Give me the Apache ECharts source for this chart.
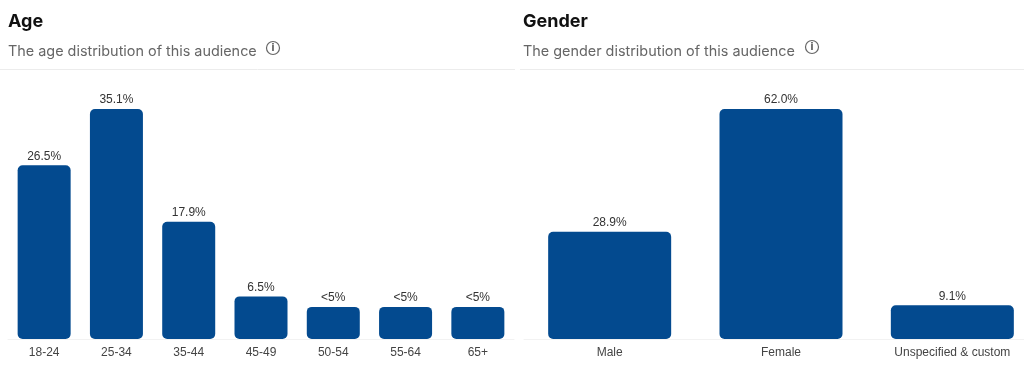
<!DOCTYPE html>
<html><head><meta charset="utf-8">
<script src="https://cdn.jsdelivr.net/npm/echarts@6/dist/echarts.min.js"></script>
<style>html,body{margin:0;padding:0;background:#fff}#c{width:1024px;height:366px}</style>
</head><body><div id="c"></div>
<script>
const ageCategories = ['18-24','25-34','35-44','45-49','50-54','55-64','65+'];
const ageValues = [26.5, 35.1, 17.9, 6.5, 4.9, 4.9, 4.9];
const ageLabels = ['26.5%','35.1%','17.9%','6.5%','<5%','<5%','<5%'];
const genderCategories = ['Male','Female','Unspecified & custom'];
const genderValues = [28.9, 62.0, 9.1];
const genderLabels = ['28.9%','62.0%','9.1%'];

const BAR = '#034a8f';
const chart = echarts.init(document.getElementById('c'));
const titleFont = 'Inter, "Open Sans", sans-serif';
function infoIcon(cx, cy){
  return [
    {type:'circle', shape:{cx:cx, cy:cy, r:6.5}, style:{fill:'none', stroke:'#666', lineWidth:1.2}},
    {type:'text', style:{x:cx, y:cy+0.5, text:'i', fill:'#666', font:'bold 10px "DejaVu Sans", sans-serif', align:'center', verticalAlign:'middle'}}
  ];
}
const labelStyle = {show:true, position:'top', distance:3, color:'#333', fontSize:12, fontFamily:'"Liberation Sans", Arial, sans-serif'};
const axisLabelStyle = {color:'#444', fontSize:12, fontFamily:'"Liberation Sans", Arial, sans-serif', margin:8, interval:0};
chart.setOption({
  animation:false,
  title:[
    {text:'Age', left:3, top:8, textStyle:{fontSize:18, fontWeight:'bold', color:'#111', fontFamily:titleFont}},
    {text:'The age distribution of this audience', left:3, top:40, textStyle:{fontSize:14.4, fontWeight:'normal', color:'#666', fontFamily:titleFont}},
    {text:'Gender', left:518, top:8, textStyle:{fontSize:18, fontWeight:'bold', color:'#111', fontFamily:titleFont}},
    {text:'The gender distribution of this audience', left:518, top:40, textStyle:{fontSize:14.4, fontWeight:'normal', color:'#666', fontFamily:titleFont}}
  ],
  graphic:[
    {type:'line', shape:{x1:0, y1:69.5, x2:515, y2:69.5}, style:{stroke:'#ececec', lineWidth:1}},
    {type:'line', shape:{x1:520, y1:69.5, x2:1024, y2:69.5}, style:{stroke:'#ececec', lineWidth:1}},
    ...infoIcon(273, 48),
    ...infoIcon(812, 47)
  ],
  grid:[
    {left:8, width:506, top:109, bottom:27, containLabel:false, outerBoundsMode:'none'},
    {left:524, width:514, top:109, bottom:27, containLabel:false, outerBoundsMode:'none'}
  ],
  xAxis:[
    {type:'category', gridIndex:0, data:ageCategories, axisTick:{show:false}, axisLine:{lineStyle:{color:'#f2f2f2'}}, axisLabel:axisLabelStyle},
    {type:'category', gridIndex:1, data:genderCategories, axisTick:{show:false}, axisLine:{lineStyle:{color:'#f2f2f2'}}, axisLabel:axisLabelStyle}
  ],
  yAxis:[
    {type:'value', gridIndex:0, min:0, max:'dataMax', show:false, splitLine:{show:false}},
    {type:'value', gridIndex:1, min:0, max:'dataMax', show:false, splitLine:{show:false}}
  ],
  series:[
    {type:'bar', xAxisIndex:0, yAxisIndex:0, data:ageValues, barWidth:53,
     itemStyle:{color:BAR, borderRadius:5},
     label:Object.assign({}, labelStyle, {formatter:p=>ageLabels[p.dataIndex]})},
    {type:'bar', xAxisIndex:1, yAxisIndex:1, data:genderValues, barWidth:123,
     itemStyle:{color:BAR, borderRadius:5},
     label:Object.assign({}, labelStyle, {formatter:p=>genderLabels[p.dataIndex]})}
  ]
});
</script></body></html>
